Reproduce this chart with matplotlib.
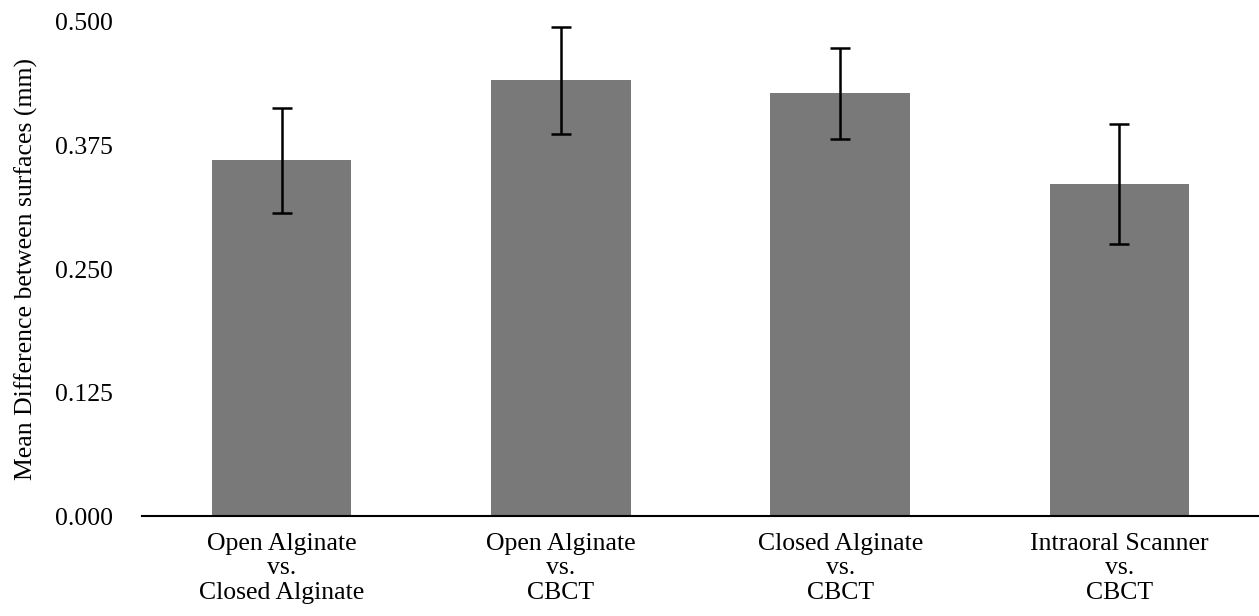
import matplotlib.pyplot as plt
import numpy as np

categories = ['Open Alginate\nvs.\nClosed Alginate', 'Open Alginate\nvs.\nCBCT',
              'Closed Alginate\nvs.\nCBCT', 'Intraoral Scanner\nvs.\nCBCT']
means = [0.360, 0.441, 0.428, 0.336]
errors = [0.053, 0.054, 0.046, 0.061]
yticks = [0.0, 0.125, 0.25, 0.375, 0.5]

plt.rcParams['font.family'] = ['Liberation Serif', 'DejaVu Serif']

fig = plt.figure(figsize=(12.59, 6.16), dpi=100)
ax = fig.add_axes([0.1128, 0.1623, 0.8872, 0.802])

x = np.arange(len(categories))
ax.bar(x, means, width=0.5, color='#797979', zorder=2)
ax.errorbar(x, means, yerr=errors, fmt='none', ecolor='black',
            elinewidth=1.8, capsize=7, capthick=1.8, zorder=3)

ax.set_xlim(-0.5, 3.5)
ax.set_ylim(0, 0.5)
ax.set_yticks(yticks)
ax.set_yticklabels([f'{v:.3f}' for v in yticks], fontsize=18.5)
ax.set_xticks(x)
ax.set_xticklabels(categories, fontsize=18.5, linespacing=1.15)
ax.tick_params(axis='y', length=0, pad=21)
ax.tick_params(axis='x', length=0, pad=12)

for s in ['top', 'right', 'left']:
    ax.spines[s].set_visible(False)
ax.spines['bottom'].set_linewidth(1.5)
ax.spines['bottom'].set_zorder(4)

ax.set_ylabel('Mean Difference between surfaces (mm)', fontsize=18.5, labelpad=12)

fig.savefig('out.png', dpi=100)
